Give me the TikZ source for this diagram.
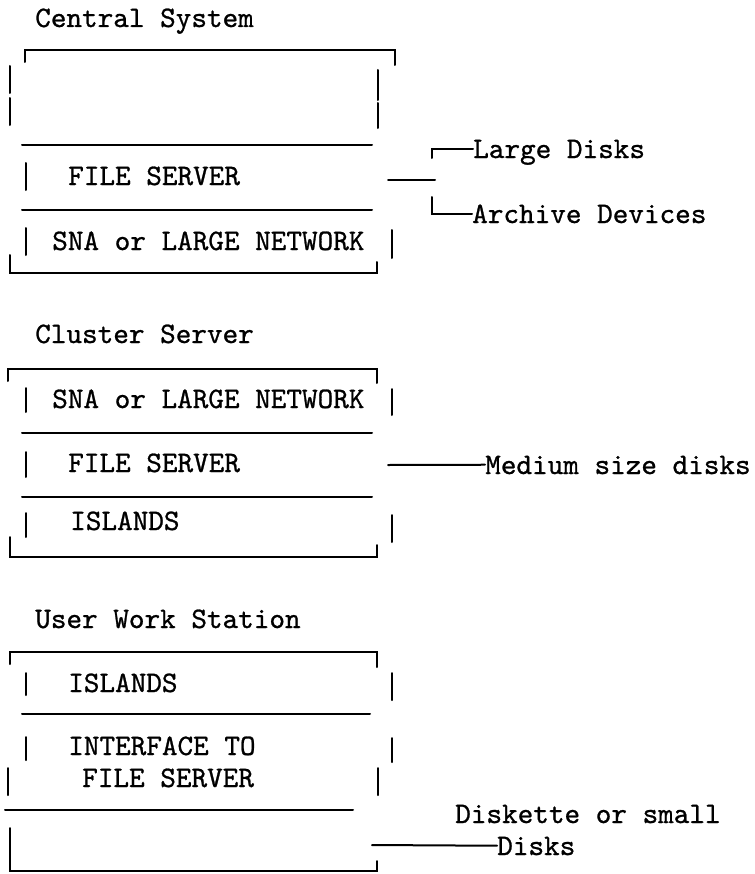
\documentclass[tikz,border=0pt]{standalone}
\usepackage{fontspec}
\usepackage{tikz}
\newfontfamily\typer{lmmono10-regular.otf}[FakeBold=0.9]
\begin{document}
\begin{tikzpicture}[x=0.75pt,y=-0.75pt]
\tikzstyle{txt}=[anchor=base west, inner sep=0pt, font=\typer\fontsize{22.3}{27}\selectfont, text height=13.9pt, text depth=0pt]
\tikzstyle{pen}=[line width=1.5pt, line cap=round]
\useasboundingbox (0,0) rectangle (755,874);
% central system
  \node[txt] (cen) at (35,27) {Central System};
  \node[txt] (cenfs) at (68,185) {FILE SERVER};
  \node[txt] (censna) at (52,250) {SNA or LARGE NETWORK};
  \draw[pen] (25,62) |- (395,50) -- (395,65);
  \draw[pen] (10,66) -- (10,93) (10,98) -- (10,125);
  \draw[pen] (378,70) -- (378,100) (378,103) -- (378,128);
  \draw[pen] (22,145) -- (372,145);
  \draw[pen] (26,163) -- (26,190);
  \draw[pen] (22,210) -- (372,210);
  \draw[pen] (26,228) -- (26,255) (392,230) -- (392,258);
  \draw[pen] (10,255) |- (377,273) -- (377,262);
  \node[txt] (ld) at (473,158) {Large Disks};
  \node[txt] (ad) at (472,223) {Archive Devices};
  \coordinate (cenout) at (388,180);
  \coordinate (cenjoin) at (435,180);
  \coordinate (ldfoot) at (432,158);
  \coordinate (adtop) at (432,197);
  \draw[pen] (cenout) -- (cenjoin);
  \draw[pen] (ldfoot) |- (ld.west);
  \draw[pen] (adtop) |- (ad.west);
% cluster server
  \node[txt] (clu) at (35,343) {Cluster Server};
  \node[txt] (clusna) at (52,408) {SNA or LARGE NETWORK};
  \node[txt] (clufs) at (68,472) {FILE SERVER};
  \node[txt] (cluisl) at (70,530) {ISLANDS};
  \draw[pen] (8,381) |- (377,369) -- (377,383);
  \draw[pen] (26,388) -- (26,412) (392,389) -- (392,415);
  \draw[pen] (22,433) -- (372,433);
  \draw[pen] (26,452) -- (26,477);
  \draw[pen] (22,497) -- (372,497);
  \draw[pen] (26,513) -- (26,537) (392,515) -- (392,542);
  \draw[pen] (10,537) |- (377,557) -- (377,545);
  \node[txt] (md) at (485,474) {Medium size disks};
  \coordinate (cluout) at (388,465);
  \draw[pen] (cluout) -- (md.west);
% user work station
  \node[txt] (uws) at (35,628) {User Work Station};
  \node[txt] (uwsisl) at (68,692) {ISLANDS};
  \node[txt] (uwsif) at (68,755) {INTERFACE TO};
  \node[txt] (uwsfs) at (82,787) {FILE SERVER};
  \draw[pen] (10,664) |- (377,652) -- (377,667);
  \draw[pen] (26,673) -- (26,695) (392,673) -- (392,700);
  \draw[pen] (22,714) -- (370,714);
  \draw[pen] (26,737) -- (26,760) (392,738) -- (392,762);
  \draw[pen] (8,768) -- (8,795) (378,768) -- (378,795);
  \draw[pen] (5,810) -- (353,810);
  \draw[pen] (10,828) |- (377,871) -- (377,861);
  \node[txt] (dsk1) at (455,823) {Diskette or small};
  \node[txt] (dsk2) at (497,855) {Disks};
  \coordinate (uwsout) at (372,845);
  \draw[pen] (uwsout) -- (dsk2.west);
\end{tikzpicture}
\end{document}
